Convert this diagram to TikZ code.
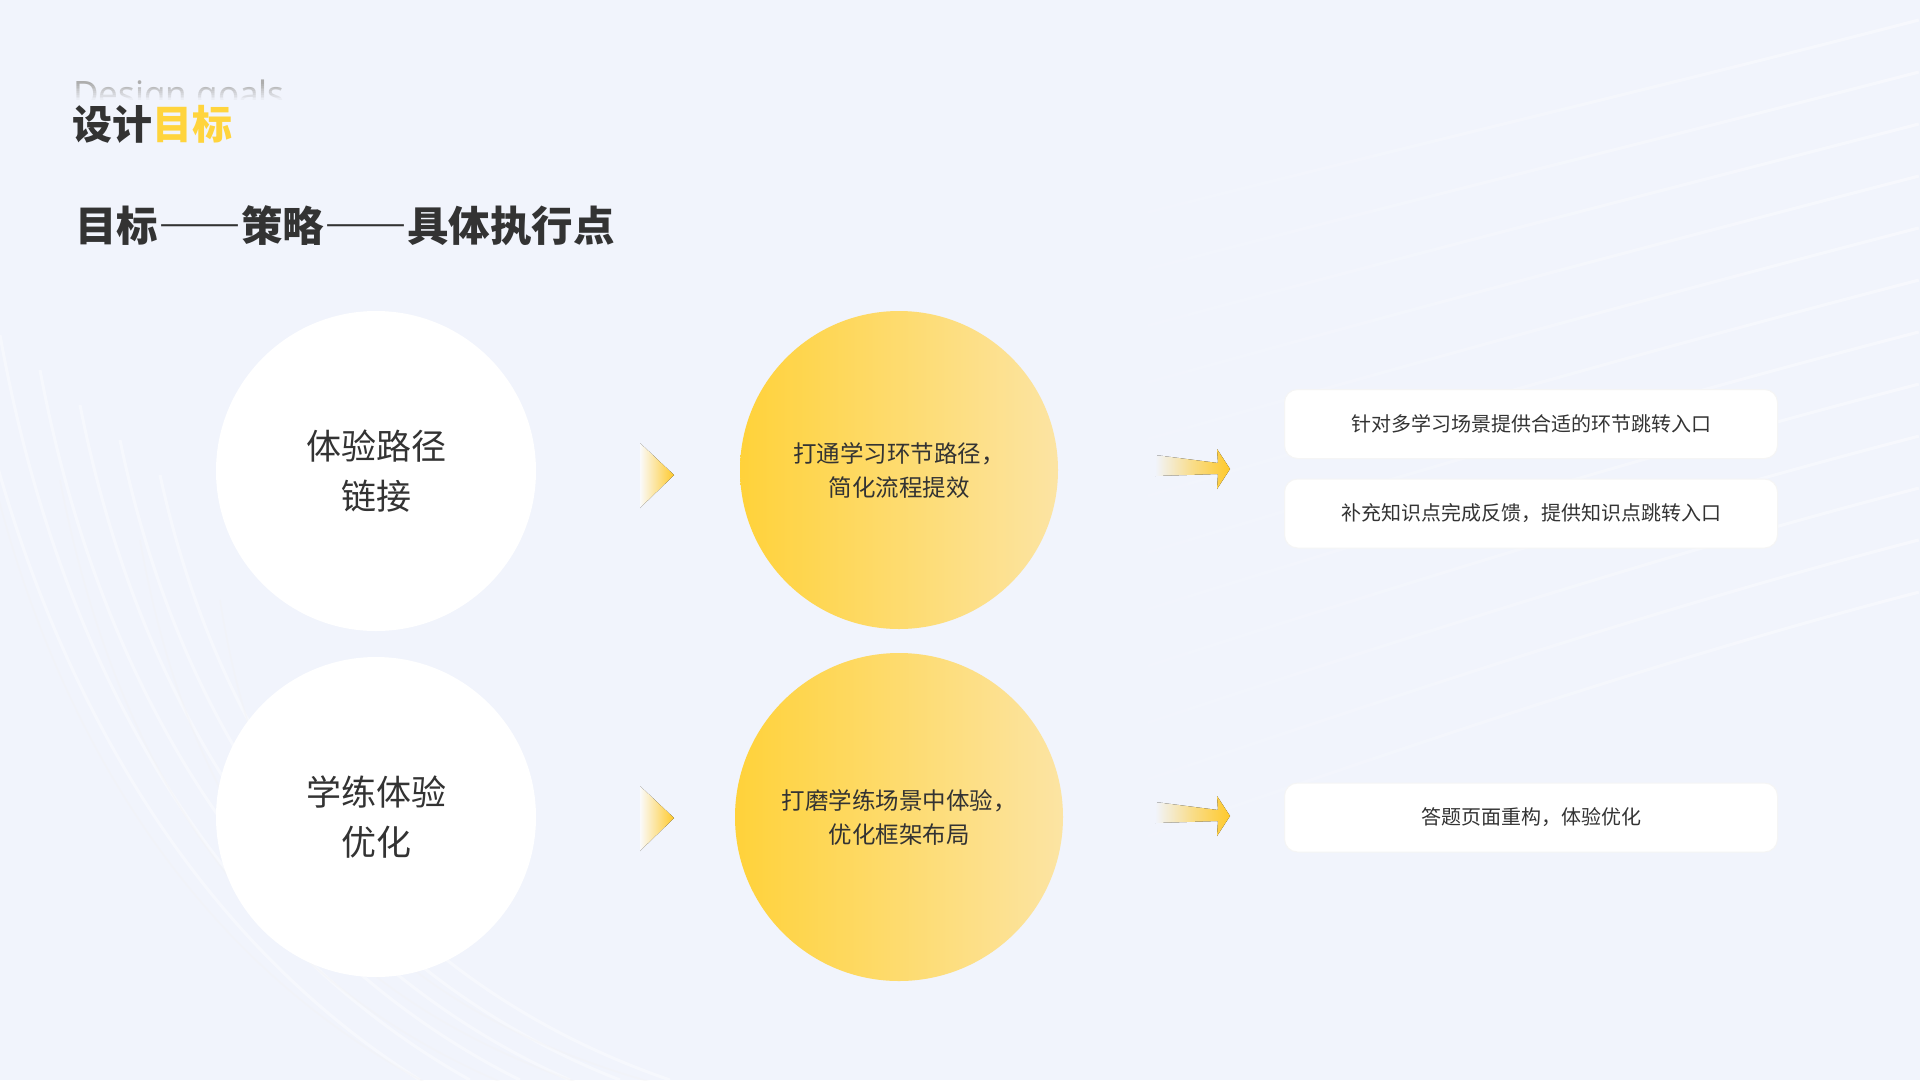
\documentclass[tikz,border=0pt]{standalone}
\usepackage{fontspec}
\setmainfont{Noto Sans CJK SC}
\newfontfamily\latinfont{Noto Sans}
\usetikzlibrary{fadings}
\tikzfading[name=fadeleft, left color=transparent!100, right color=transparent!0]
\definecolor{bg}{HTML}{F1F4FC}
\definecolor{ink}{HTML}{333333}
\definecolor{gold}{HTML}{FFD23A}
\definecolor{goldpale}{HTML}{FCE4A3}
\definecolor{arrowgold}{HTML}{FFC92A}
\definecolor{titlegold}{HTML}{FFD43D}
\begin{document}
\begin{tikzpicture}[x=1pt,y=-1pt,
  goal/.style={circle, fill=white, minimum size=320pt, inner sep=0pt, align=center, text=ink, font=\fontsize{35}{50}\selectfont},
  strategy/.style={circle, left color=gold, right color=goldpale, inner sep=0pt, align=center, text=ink, font=\fontsize{23.5}{34}\selectfont},
  point/.style={rounded corners=13pt, fill=white, draw=black!4, line width=1pt, minimum width=493pt, minimum height=69pt, inner sep=0pt, text=ink, font=\fontsize{20}{24}\selectfont},
  tri/.style={left color=bg!85!black!10, right color=arrowgold},
  arr/.style={left color=bg, right color=arrowgold, middle color=arrowgold!55!bg},
  wave/.style={white, line width=3pt, opacity=0.45},
]
\useasboundingbox (0,0) rectangle (1920,1080);
\fill[bg] (0,0) rectangle (1920,1080);

% background waves (top right streaks)
\foreach \i in {0,...,11} {
  \draw[wave, path fading=fadeleft] (1000,{250+\i*58}) .. controls (1350,{160+\i*55}) and (1650,{90+\i*52}) .. (1920,{20+\i*52});
}
% background waves (bottom left arcs)
\foreach \i in {0,...,5} {
  \draw[wave, opacity=0.4] ({-40+\i*40},{300+\i*35}) .. controls ({20+\i*40},{650+\i*20}) and ({180+\i*40},{930+\i*10}) .. ({420+\i*50},1080);
}
\foreach \i in {0,...,3} {
  \draw[black!5, line width=1.5pt, opacity=0.35] ({-20+\i*80},{420+\i*60}) .. controls ({50+\i*70},{760+\i*30}) and ({220+\i*50},{980+\i*10}) .. ({440+\i*80},1090);
}

% header
\node[anchor=base west, inner sep=0pt, text=black!32, font=\latinfont\fontsize{35}{35}\selectfont] (en) at (73,106) {Design goals};
\foreach \k in {0,...,9} {
  \fill[bg, opacity={0.1*\k+0.1}] (60,{84+\k*1.8}) rectangle (300,{84+\k*1.8+1.8});
}
\fill[bg] (60,101.9) rectangle (300,118);
\node[anchor=west, inner sep=0pt, text=ink, font=\fontsize{40}{40}\selectfont\bfseries] (title) at (72,124) {设计\textcolor{titlegold}{目标}};
\node[anchor=west, inner sep=0pt, text=ink, font=\fontsize{41.5}{42}\selectfont\bfseries\addfontfeature{CharacterWidth=Full}] (sub) at (75,226) {目标——策略——具体执行点};

% row 1
\node[goal] (g1) at (376,471) {体验路径\\链接};
\node[strategy, minimum size=318pt] (s1) at (899,470) {打通学习环节路径，\\简化流程提效};
\node[point] (p1) at (1531,424) {针对多学习场景提供合适的环节跳转入口};
\node[point] (p2) at (1531,513.5) {补充知识点完成反馈，提供知识点跳转入口};
\fill[tri] (640,443) -- (674,475) -- (640,508) -- cycle;
\fill[arr] (1155,455) -- (1218,463) -- (1217,449) -- (1230,469) -- (1217,489) -- (1218,474) -- (1155,476) -- cycle;

% row 2
\node[goal] (g2) at (376,817) {学练体验\\优化};
\node[strategy, minimum size=328pt] (s2) at (899,817) {打磨学练场景中体验，\\优化框架布局};
\node[point] (p3) at (1531,817.5) {答题页面重构，体验优化};
\fill[tri] (640,786) -- (674,818) -- (640,851) -- cycle;
\fill[arr] (1155,802) -- (1218,810) -- (1217,796) -- (1230,816) -- (1217,836) -- (1218,821) -- (1155,823) -- cycle;
\end{tikzpicture}
\end{document}
